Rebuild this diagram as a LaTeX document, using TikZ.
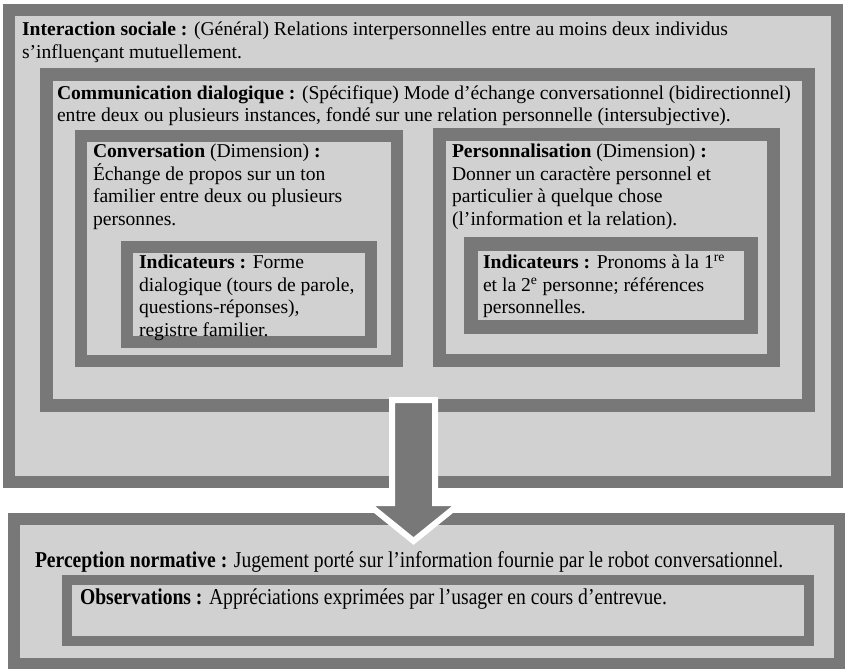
\documentclass[tikz,border=0pt]{standalone}
\usepackage{fontspec}
\setmainfont{Liberation Serif}
\newfontfamily\condserif[FakeStretch=0.865]{Liberation Serif}
\usetikzlibrary{positioning}
\definecolor{framegray}{RGB}{120,120,120}
\definecolor{panelgray}{RGB}{209,209,209}

\begin{document}
\begin{tikzpicture}[
    x=0.75pt, y=-0.75pt,
    frame/.style={rectangle, draw=framegray, fill=panelgray, inner sep=0pt},
    boxtext/.style={anchor=north west, inner sep=0pt, outer sep=0pt, align=left,
                    font=\fontsize{14.7}{16.8}\selectfont},
    lowtext/.style={anchor=north west, inner sep=0pt, outer sep=0pt, align=left,
                    font=\condserif\fontsize{17}{20}\selectfont},
    bigarrow/.style={draw=white, line width=4.5pt, fill=framegray, line join=miter}
  ]
    \fill[white] (0,0) rectangle (845,668);
    \useasboundingbox (0,0) rectangle (845,668);

    % nested frames
    \node[frame, line width=9pt, minimum width=621pt, minimum height=354pt] (social) at (423,246) {};
    \node[frame, line width=9.75pt, minimum width=571.5pt, minimum height=248.25pt] (comm) at (427.5,240) {};
    \node[frame, line width=9pt, minimum width=237pt, minimum height=168.75pt] (conv) at (239,248.5) {};
    \node[frame, line width=9.75pt, minimum width=250.5pt, minimum height=169.5pt] (perso) at (606.5,247.5) {};
    \node[frame, line width=9pt, minimum width=183pt, minimum height=71.25pt] (indconv) at (249,294.5) {};
    \node[frame, line width=10.5pt, minimum width=210pt, minimum height=62.25pt] (indperso) at (611,285.5) {};
    \node[frame, line width=9pt, minimum width=619.5pt, minimum height=108.75pt] (percep) at (427,591.5) {};
    \node[frame, line width=7.5pt, minimum width=556.5pt, minimum height=45.75pt] (observ) at (438,610.5) {};

    % texts
    \node[boxtext, below right=13.6pt and 14.25pt of social.north west] (socialtxt)
      {\textbf{Interaction sociale :} (Général) Relations interpersonnelles entre au moins deux individus\\
       s’influençant mutuellement.};
    \node[boxtext, below right=13.1pt and 12.75pt of comm.north west] (commtxt)
      {\textbf{Communication dialogique :} (Spécifique) Mode d’échange conversationnel (bidirectionnel)\\
       entre deux ou plusieurs instances, fondé sur une relation personnelle (intersubjective).};
    \node[boxtext, below right=10.7pt and 13.5pt of conv.north west] (convtxt)
      {\textbf{Conversation} (Dimension) \textbf{:}\\
       Échange de propos sur un ton\\
       familier entre deux ou plusieurs\\
       personnes.};
    \node[boxtext, below right=12.2pt and 14.25pt of perso.north west] (persotxt)
      {\textbf{Personnalisation} (Dimension) \textbf{:}\\
       Donner un caractère personnel et\\
       particulier à quelque chose\\
       (l’information et la relation).};
    \node[boxtext, below right=10.7pt and 13.5pt of indconv.north west] (indconvtxt)
      {\textbf{Indicateurs :} Forme\\
       dialogique (tours de parole,\\
       questions-réponses),\\
       registre familier.};
    \node[boxtext, below right=13.7pt and 14.25pt of indperso.north west] (indpersotxt)
      {\textbf{Indicateurs :} Pronoms à la 1\textsuperscript{re}\\
       et la 2\textsuperscript{e} personne; références\\
       personnelles.};
    \node[lowtext, below right=29pt and 20.25pt of percep.north west] (perceptxt)
      {\textbf{Perception normative :} Jugement porté sur l’information fournie par le robot conversationnel.};
    \node[lowtext, below right=10.25pt and 13.5pt of observ.north west] (observtxt)
      {\textbf{Observations :} Appréciations exprimées par l’usager en cours d’entrevue.};

    % big arrow
    \coordinate (arrowtop) at (413.5,400);
    \coordinate (arrowtip) at (413.5,541);
    \draw[bigarrow] (arrowtop) ++(-21.5,0) -- ++(43,0) -- ++(0,103) -- ++(25.5,0)
      -- (arrowtip) -- ++(-47,-38) -- ++(25.5,0) -- cycle;
  \end{tikzpicture}
\end{document}
